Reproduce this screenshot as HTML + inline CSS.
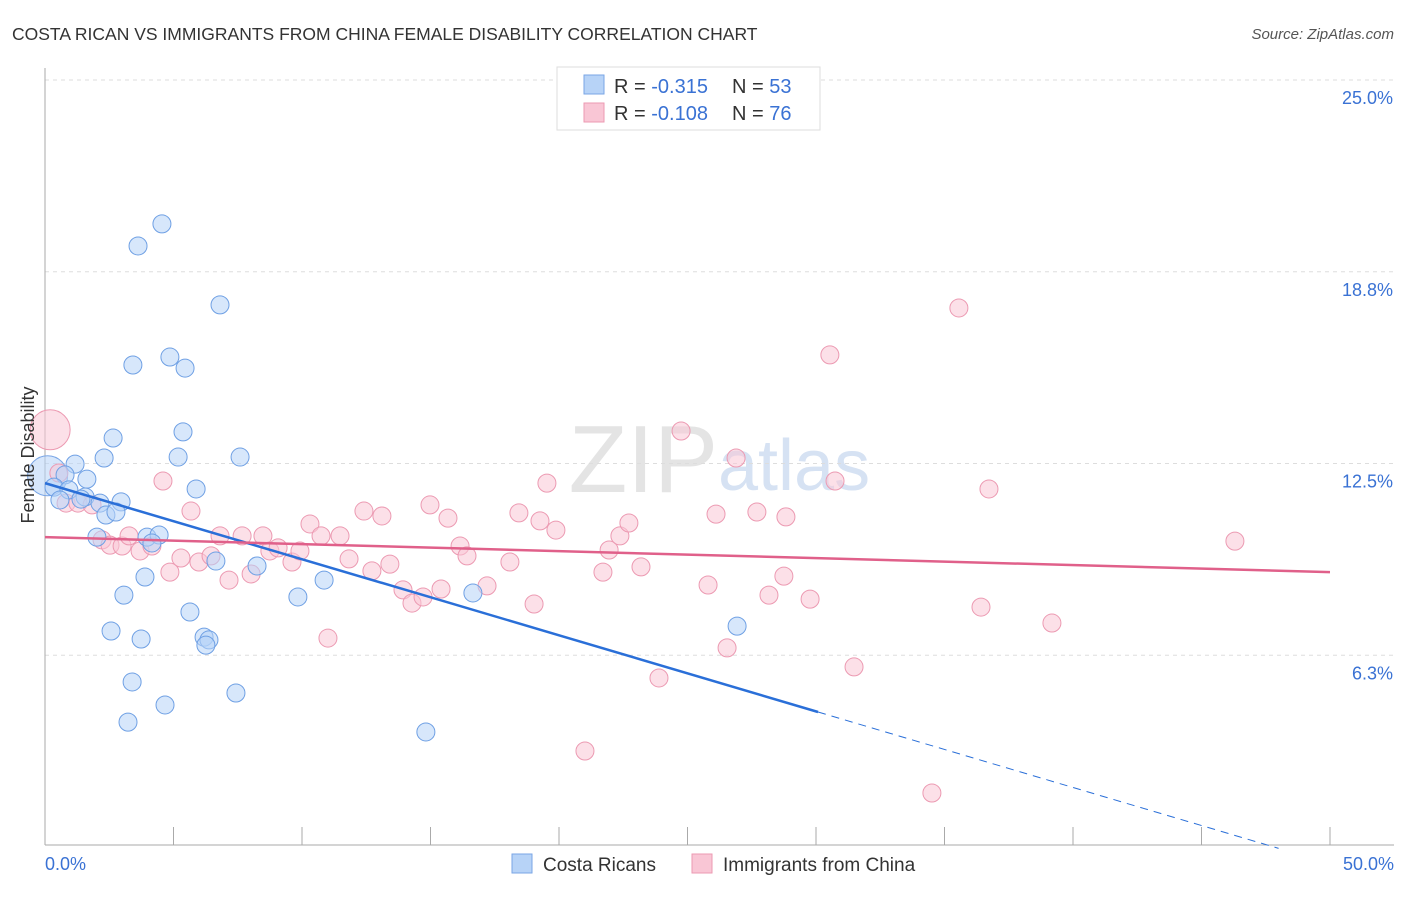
<!DOCTYPE html>
<html><head><meta charset="utf-8"><style>
body{margin:0;background:#fff;font-family:"Liberation Sans",sans-serif;}
svg text{font-family:"Liberation Sans",sans-serif;}
</style></head><body>
<svg id="chart" width="1406" height="892" xmlns="http://www.w3.org/2000/svg">
<text x="12" y="40" font-size="17.5" fill="#333">COSTA RICAN VS IMMIGRANTS FROM CHINA FEMALE DISABILITY CORRELATION CHART</text>
<text x="1394" y="39" font-size="15" fill="#555" text-anchor="end" font-style="italic">Source: ZipAtlas.com</text>
<text x="718" y="492" font-size="96" fill="#e4e4e4" text-anchor="end" font-family="Liberation Serif">ZIP</text>
<text x="718" y="490" font-size="72" fill="#d6e2f3">atlas</text>
<g id="grid"></g><g id="axes"></g><g id="marks"></g><g id="lines"></g>
<g>
<rect x="557" y="67" width="263" height="63" fill="#fff" stroke="#ddd"/>
<rect x="584" y="75" width="20" height="19" fill="#b7d3f7" stroke="#7aa6e6"/>
<text x="614" y="93" font-size="20" fill="#333">R = <tspan fill="#3a72d4">-0.315</tspan></text>
<text x="732" y="93" font-size="20" fill="#333">N = <tspan fill="#3a72d4">53</tspan></text>
<rect x="584" y="103" width="20" height="19" fill="#f9c6d5" stroke="#ec9ab2"/>
<text x="614" y="120" font-size="20" fill="#333">R = <tspan fill="#3a72d4">-0.108</tspan></text>
<text x="732" y="120" font-size="20" fill="#333">N = <tspan fill="#3a72d4">76</tspan></text>
</g>
<g>
<rect x="512" y="854" width="20" height="19" fill="#b7d3f7" stroke="#7aa6e6"/>
<text x="543" y="871" font-size="19" fill="#333">Costa Ricans</text>
<rect x="692" y="854" width="20" height="19" fill="#f9c6d5" stroke="#ec9ab2"/>
<text x="723" y="871" font-size="19" fill="#333">Immigrants from China</text>
</g>
<text transform="translate(34,455) rotate(-90)" font-size="18" fill="#333" text-anchor="middle">Female Disability</text>
</svg>
<script>
const yTicks=[6.25,12.5,18.75,25];
const yTickLabels=["6.3%","12.5%","18.8%","25.0%"];
const xTickLabels=["0.0%","50.0%"];
const bluePx=[[162,224],[138,246],[220,305],[133,365],[170,357],[185,368],[113,438],[183,432],[240,457],[178,457],[104,458],[75,464],[65,475],[87,479],[54,487],[69,490],[60,500],[85,497],[100,503],[121,502],[81,499],[196,489],[106,515],[116,512],[97,537],[147,537],[159,535],[152,543],[257,566],[145,577],[124,595],[298,597],[324,580],[190,612],[216,561],[473,593],[111,631],[141,639],[204,637],[209,640],[206,645],[737,626],[132,682],[236,693],[165,705],[128,722],[426,732]];
const pinkPx=[[59,473],[66,503],[78,503],[92,505],[102,540],[110,545],[122,546],[140,551],[152,546],[129,536],[163,481],[191,511],[170,572],[181,558],[199,562],[211,556],[220,536],[229,580],[242,536],[251,574],[263,536],[270,551],[278,548],[292,562],[300,551],[310,524],[321,536],[328,638],[340,536],[349,559],[364,511],[372,571],[382,516],[390,564],[403,590],[412,603],[423,597],[430,505],[441,589],[448,518],[460,546],[467,556],[487,586],[510,562],[519,513],[534,604],[540,521],[547,483],[556,530],[585,751],[603,572],[609,550],[620,536],[629,523],[641,567],[659,678],[681,431],[708,585],[716,514],[727,648],[736,458],[757,512],[769,595],[784,576],[786,517],[810,599],[830,355],[835,481],[854,667],[932,793],[959,308],[981,607],[989,489],[1052,623],[1235,541]];
// data values (percent) derived from the picture
const blueX=bluePx.map(p=>+((p[0]-45)*50/1285).toFixed(2));
const blueY=bluePx.map(p=>+((847-p[1])*25/767).toFixed(2));
const pinkX=pinkPx.map(p=>+((p[0]-45)*50/1285).toFixed(2));
const pinkY=pinkPx.map(p=>+((847-p[1])*25/767).toFixed(2));
const bigBlue=[0.1,12.1]; const bigPink=[0.2,13.6];
const blueTrend=[11.86,4.40,30.08];
const pinkTrend=[10.10,8.96];
const X=v=>45+v*1285/50, Y=v=>847-v*767/25;
const NS="http://www.w3.org/2000/svg";
function mk(t,a,p){const e=document.createElementNS(NS,t);for(const k in a)e.setAttribute(k,a[k]);document.getElementById(p).appendChild(e);return e;}
yTicks.forEach((t,i)=>{
 const g=mk('line',{x1:45,x2:1394,y1:Y(t),y2:Y(t),stroke:'#ddd','stroke-dasharray':'4,4'},'grid');
 
 
 const l=mk('text',{x:1393,y:Y(t)+24,'font-size':18,fill:'#3a72d4','text-anchor':'end'},'axes');l.textContent=yTickLabels[i];
 
 
});
const ax=mk('line',{x1:45,x2:45,y1:68,y2:845,stroke:'#aaa'},'axes');


const bx=mk('line',{x1:45,x2:1394,y1:845,y2:845,stroke:'#aaa'},'axes');


for(let i=0;i<=10;i++){const t=mk('line',{x1:X(i*5),x2:X(i*5),y1:827,y2:845,stroke:'#aaa'},'axes');
 
 }
[[0,'start',45],[1,'end',1394]].forEach(([i,a,x])=>{const t=mk('text',{x:x,y:870,'font-size':18,fill:'#3a72d4','text-anchor':a},'axes');t.textContent=xTickLabels[i];
 
 });
function dot(x,y,r,c,s,n){const e=mk('circle',{cx:X(x),cy:Y(y),r:r,fill:c,'fill-opacity':0.55,stroke:s,'stroke-width':1},'marks');
 
 }
dot(bigBlue[0],bigBlue[1],20,'#b7d3f7','#7aa6e6','costa-rican-point');
dot(bigPink[0],bigPink[1],20,'#f9c6d5','#ec9ab2','china-point');
pinkX.forEach((x,i)=>dot(x,pinkY[i],9,'#f9c6d5','#ec9ab2','china-point'));
blueX.forEach((x,i)=>dot(x,blueY[i],9,'#b7d3f7','#6fa0e4','costa-rican-point'));
const slope=(blueTrend[1]-blueTrend[0])/blueTrend[2];
const b1=mk('line',{x1:X(0),y1:Y(blueTrend[0]),x2:X(blueTrend[2]),y2:Y(blueTrend[1]),stroke:'#2a6fd8','stroke-width':2.5},'lines');


const xe=48;
const b2=mk('line',{x1:X(blueTrend[2]),y1:Y(blueTrend[1]),x2:X(xe),y2:Y(blueTrend[0]+slope*xe),stroke:'#2a6fd8','stroke-width':1,'stroke-dasharray':'8,6'},'lines');


const p1=mk('line',{x1:X(0),y1:Y(pinkTrend[0]),x2:X(50),y2:Y(pinkTrend[1]),stroke:'#e0608a','stroke-width':2.5},'lines');


</script>
</body></html>
